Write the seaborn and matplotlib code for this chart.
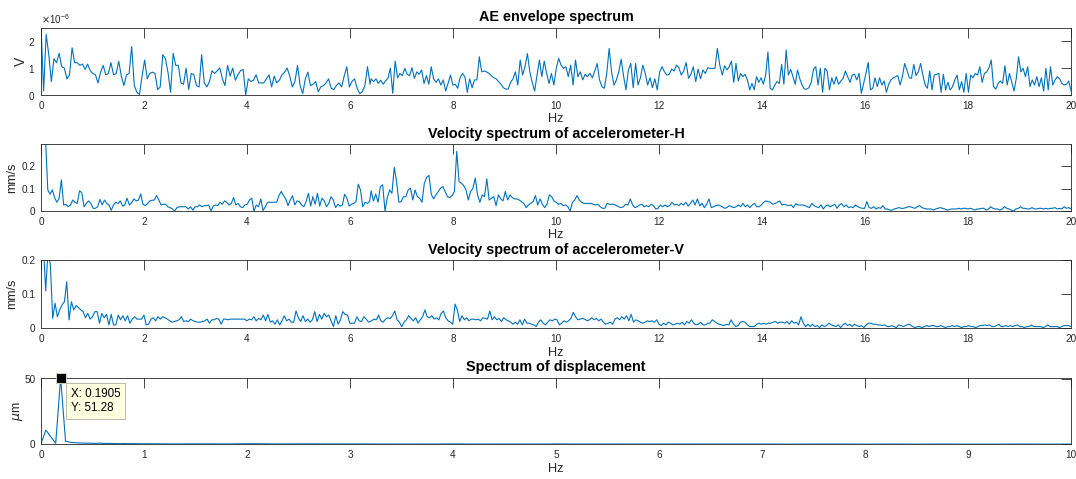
import numpy as np
import pandas as pd
import matplotlib
matplotlib.use("Agg")
import matplotlib.pyplot as plt
from matplotlib.ticker import ScalarFormatter, FuncFormatter
import seaborn as sns

# ---------------- data ----------------
# Each series is given in segments: (start Hz, end Hz, values)
AE_SCALE = 1e-6  # values below are in units of 1e-6 V
ae_seg1 = [2.6, 0.15, 2.25, 1.5, 0.5, 1.35, 1.2, 1.55, 1.05, 1.0, 0.6, 0.75, 1.75, 1.2, 1.2, 1.1, 1.15, 0.95,
           1.15, 0.9, 0.8, 0.75, 0.45, 0.85, 1.1, 0.75, 0.8, 1.2, 0.75, 0.8, 1.25, 0.7, 0.35, 0.75, 0.8, 1.8,
           0.35, 0.1, 0.02, 0.7, 1.3, 0.6, 0.8, 0.85, 0.8, 0.2, 0.3, 1.5, 1.35, 0.85, 0.1, 1.55, 1.1, 1.1, 0.45,
           0.4, 1.0, 0.2, 0.8, 0.75, 0.35, 0.3, 1.5, 0.45, 0.3, 0.5, 0.9, 0.8, 0.9, 1.0, 0.6, 0.35, 1.1, 0.7,
           1.0, 0.55, 0.75, 0.9, 0.95, 0.0, 0.6, 0.5, 0.55, 0.75, 0.45, 0.45, 0.45, 0.6, 0.75, 0.3, 0.7, 0.45,
           0.55, 0.75, 0.85, 1.0, 0.7, 0.3, 0.5, 1.1, 0.35, 0.05, 0.6, 0.85, 0.35, 0.4, 0.5, 0.12, 0.3, 0.35,
           0.45, 0.6, 0.25, 0.2, 0.35, 0.45, 0.3, 0.7, 1.05, 0.3, 0.5, 0.6, 0.25, 0.05, 0.12, 0.35, 1.05, 0.4]
ae_seg2 = [0.6, 0.5, 0.6, 0.43, 0.55, 0.4, 0.52, 0.62, 1.0, 0.06, 1.26, 0.64, 0.8, 0.72, 0.99, 0.77, 0.72,
           1.01, 0.62, 0.86, 0.77, 0.93, 0.43, 0.72, 0.4, 1.05, 0.6, 0.47, 0.6, 0.37, 0.56, 0.15, 0.43, 0.74,
           0.37, 0.4, 0.25, 0.64, 0.8, 0.68, 0.1, 0.6, 0.27, 0.56, 0.56, 1.42, 0.86, 0.89, 0.86, 0.8, 0.72, 0.64,
           0.6, 0.5, 0.4, 0.27, 0.22, 0.22, 0.47, 0.6, 0.86, 0.37, 1.3, 0.74, 1.05, 1.54, 0.86, 0.47, 0.15, 0.74,
           1.3, 0.68, 1.26, 0.8, 0.43, 0.8, 0.37, 0.99, 1.36, 1.11, 0.99, 1.05, 0.68, 1.11, 0.37, 1.3, 0.68,
           0.86, 0.56, 0.77, 0.68, 0.8, 0.64, 0.89, 1.17, 0.56, 0.31, 0.25, 0.8, 1.73, 0.86, 0.37, 0.56, 0.86,
           1.33, 0.7, 0.19, 0.93, 1.17, 0.27, 1.17, 0.37, 0.64, 1.11, 0.8, 0.37, 0.64, 0.27, 0.6, 0.19, 0.86,
           1.05, 0.86, 0.74, 0.77, 0.96, 0.89, 1.11, 1.01, 0.74, 0.89, 1.21, 0.62, 0.77, 1.05, 0.5, 0.96, 0.6,
           0.93, 0.8, 1.01, 0.99, 0.99, 0.99, 1.73, 1.11]
ae_seg3 = [0.74, 1.09, 0.93, 1.05, 1.26, 0.47, 1.17, 0.52, 0.8, 0.68, 0.77, 0.56, 0.19, 0.43, 0.19, 0.68,
           0.47, 0.64, 0.4, 0.74, 1.6, 0.25, 0.19, 0.37, 0.5, 0.43, 1.14, 0.4, 1.67, 0.74, 0.95, 0.68, 0.4,
           0.93, 0.6, 0.37, 0.22, 0.22, 0.27, 0.47, 0.96, 1.05, 0.37, 0.99, 0.1, 0.99, 0.89, 0.19, 0.64, 0.4,
           0.68, 0.4, 0.52, 0.62, 0.89, 0.68, 0.47, 0.74, 0.77, 0.56, 0.8, 0.06, 0.43, 0.8, 1.21, 0.19, 0.25,
           0.64, 0.31, 0.64, 0.37, 0.52, 0.1, 0.4, 0.56, 0.64, 0.68, 0.72, 0.37, 0.68, 1.17, 0.93, 0.64, 0.62,
           1.14, 0.72, 0.86, 1.17, 0.74, 0.37, 0.25, 0.89, 0.19, 0.74, 0.77, 0.8, 0.1, 0.77, 0.19, 0.47, 0.19,
           0.31, 0.56, 0.74, 0.19, 0.5, 0.1, 0.8, 0.1, 0.74, 0.64, 0.8, 0.74, 1.05, 0.47, 0.8, 0.86, 1.01, 1.3,
           0.31, 0.22, 0.43, 0.52, 0.43, 1.09, 0.37, 0.8, 0.47, 0.15, 0.62, 1.42, 0.86, 0.99, 0.68, 1.05, 0.31,
           0.56, 0.37, 0.68, 0.31, 0.64, 0.15, 0.99, 0.19, 1.05, 0.37, 0.56, 0.68, 0.6, 0.43, 0.37, 0.4, 0.52,
           0.15]
ae_segments = [(0.0, 6.39, ae_seg1), (6.41, 13.18, ae_seg2), (13.23, 20.0, ae_seg3)]

velh_seg1 = [0.9, 0.6, 0.32, 0.094, 0.075, 0.094, 0.06, 0.039, 0.057, 0.139, 0.027, 0.03, 0.019, 0.027, 0.049,
             0.039, 0.034, 0.09, 0.082, 0.019, 0.034, 0.045, 0.034, 0.012, 0.012, 0.019, 0.052, 0.027, 0.049,
             0.034, 0.027, 0.003, 0.027, 0.039, 0.034, 0.045, 0.022, 0.027, 0.057, 0.027, 0.037, 0.054, 0.045,
             0.049, 0.076, 0.03, 0.024, 0.033, 0.045, 0.048, 0.049, 0.069, 0.049, 0.027, 0.03, 0.03, 0.019,
             0.015, 0.009, 0.0, 0.015, 0.019, 0.019, 0.019, 0.019, 0.009, 0.019, 0.004, 0.019, 0.019, 0.027,
             0.019, 0.024, 0.024, 0.027, 0.0, 0.022, 0.027, 0.024, 0.039, 0.03, 0.045, 0.039, 0.027, 0.034,
             0.06, 0.027, 0.034, 0.019, 0.015, 0.027, 0.03, 0.049, 0.057, 0.0, 0.027, 0.019, 0.054, 0.002,
             0.019, 0.039, 0.039, 0.039, 0.039, 0.039, 0.069, 0.087, 0.069, 0.054, 0.024, 0.049, 0.069, 0.027,
             0.045, 0.042, 0.027, 0.019, 0.042, 0.079, 0.022, 0.064, 0.03, 0.079, 0.022, 0.057, 0.045, 0.019,
             0.034, 0.064, 0.049, 0.015, 0.03, 0.022, 0.027, 0.075, 0.057, 0.022, 0.03, 0.034, 0.042, 0.12,
             0.094, 0.019, 0.039, 0.034, 0.042]
velh_seg2 = [0.09, 0.045, 0.075, 0.039, 0.109, 0.117, 0.0, 0.06, 0.094, 0.079, 0.195, 0.132, 0.039, 0.042,
             0.064, 0.064, 0.094, 0.102, 0.049, 0.094, 0.064, 0.057, 0.039, 0.124, 0.15, 0.159, 0.075, 0.054,
             0.072, 0.087, 0.102, 0.109, 0.087, 0.064, 0.06, 0.069, 0.087, 0.267, 0.132, 0.124, 0.114, 0.094,
             0.049, 0.087, 0.102, 0.147, 0.072, 0.039, 0.072, 0.064, 0.144, 0.049, 0.057, 0.064, 0.024, 0.072,
             0.054, 0.045, 0.087, 0.049, 0.072, 0.06, 0.054, 0.054, 0.049, 0.042, 0.034, 0.015, 0.027, 0.034,
             0.042, 0.069, 0.027, 0.054, 0.03, 0.015, 0.03, 0.072, 0.064, 0.045, 0.039, 0.03, 0.034, 0.024,
             0.027, 0.019, 0.0, 0.039, 0.049, 0.069, 0.049, 0.039, 0.034, 0.034, 0.034, 0.034, 0.03, 0.027,
             0.03, 0.019, 0.012, 0.012, 0.034, 0.03, 0.03, 0.03, 0.024, 0.019, 0.015, 0.019, 0.03, 0.027,
             0.054, 0.027, 0.015, 0.019, 0.027, 0.03, 0.019, 0.024, 0.019, 0.03, 0.024, 0.009, 0.012, 0.027,
             0.019, 0.027, 0.019, 0.024, 0.039, 0.027, 0.03, 0.024, 0.034, 0.027, 0.039, 0.022, 0.034, 0.049,
             0.027, 0.054, 0.024, 0.034, 0.015, 0.03, 0.054, 0.015, 0.019, 0.024, 0.027]
velh_seg3 = [0.019, 0.012, 0.015, 0.024, 0.019, 0.015, 0.019, 0.027, 0.019, 0.034, 0.019, 0.027, 0.015, 0.027,
             0.034, 0.019, 0.019, 0.027, 0.039, 0.045, 0.042, 0.039, 0.03, 0.034, 0.039, 0.045, 0.027, 0.03,
             0.027, 0.024, 0.027, 0.015, 0.033, 0.027, 0.027, 0.027, 0.024, 0.019, 0.015, 0.034, 0.024, 0.019,
             0.015, 0.027, 0.009, 0.022, 0.027, 0.019, 0.024, 0.03, 0.012, 0.027, 0.033, 0.019, 0.027, 0.015,
             0.019, 0.015, 0.027, 0.019, 0.015, 0.012, 0.012, 0.042, 0.015, 0.012, 0.019, 0.009, 0.015, 0.012,
             0.024, 0.009, 0.009, 0.004, 0.004, 0.009, 0.012, 0.015, 0.012, 0.012, 0.015, 0.019, 0.019, 0.015,
             0.012, 0.019, 0.024, 0.015, 0.012, 0.009, 0.009, 0.009, 0.004, 0.009, 0.012, 0.015, 0.012, 0.009,
             0.004, 0.007, 0.009, 0.009, 0.009, 0.012, 0.009, 0.012, 0.012, 0.009, 0.012, 0.009, 0.004, 0.009,
             0.009, 0.012, 0.012, 0.004, 0.009, 0.019, 0.012, 0.009, 0.009, 0.004, 0.009, 0.019, 0.012, 0.009,
             0.004, 0.0, 0.009, 0.012, 0.019, 0.012, 0.012, 0.009, 0.009, 0.015, 0.009, 0.009, 0.012, 0.012,
             0.009, 0.012, 0.009, 0.012, 0.012, 0.015, 0.009, 0.012, 0.009, 0.019, 0.012, 0.015, 0.009]
velh_segments = [(0.0, 6.38, velh_seg1), (6.41, 13.15, velh_seg2), (13.23, 20.0, velh_seg3)]

velv_seg1 = [0.35, 0.25, 0.11, 0.23, 0.186, 0.029, 0.074, 0.034, 0.054, 0.069, 0.078, 0.137, 0.025, 0.078,
             0.054, 0.067, 0.061, 0.054, 0.049, 0.031, 0.044, 0.027, 0.034, 0.049, 0.049, 0.015, 0.044, 0.031,
             0.041, 0.01, 0.041, 0.01, 0.01, 0.039, 0.025, 0.037, 0.022, 0.037, 0.015, 0.027, 0.034, 0.027,
             0.027, 0.027, 0.039, 0.01, 0.012, 0.027, 0.031, 0.022, 0.034, 0.027, 0.034, 0.031, 0.027, 0.022,
             0.018, 0.02, 0.022, 0.025, 0.034, 0.02, 0.022, 0.02, 0.027, 0.022, 0.02, 0.018, 0.018, 0.02, 0.022,
             0.027, 0.015, 0.025, 0.025, 0.029, 0.027, 0.012, 0.027, 0.027, 0.025, 0.027, 0.027, 0.027, 0.027,
             0.027, 0.027, 0.027, 0.022, 0.027, 0.025, 0.034, 0.022, 0.029, 0.025, 0.039, 0.022, 0.041, 0.018,
             0.022, 0.012, 0.025, 0.01, 0.022, 0.037, 0.022, 0.027, 0.018, 0.018, 0.051, 0.031, 0.02, 0.037,
             0.02, 0.027, 0.018, 0.025, 0.049, 0.02, 0.041, 0.027, 0.044, 0.034, 0.039, 0.022, 0.005, 0.037,
             0.012, 0.025, 0.049, 0.041, 0.039, 0.015, 0.015, 0.015, 0.034, 0.022, 0.02, 0.034, 0.027, 0.018]
velv_seg2 = [0.022, 0.027, 0.025, 0.039, 0.022, 0.018, 0.027, 0.031, 0.029, 0.037, 0.051, 0.025, 0.018,
             0.005, 0.018, 0.025, 0.037, 0.029, 0.022, 0.031, 0.015, 0.025, 0.034, 0.054, 0.034, 0.031, 0.037,
             0.027, 0.031, 0.025, 0.044, 0.051, 0.031, 0.022, 0.018, 0.012, 0.071, 0.054, 0.02, 0.037, 0.025,
             0.031, 0.022, 0.027, 0.027, 0.025, 0.027, 0.022, 0.031, 0.029, 0.027, 0.051, 0.025, 0.034, 0.025,
             0.029, 0.02, 0.031, 0.025, 0.022, 0.018, 0.012, 0.018, 0.012, 0.025, 0.01, 0.027, 0.015, 0.015,
             0.012, 0.01, 0.005, 0.018, 0.025, 0.015, 0.01, 0.018, 0.025, 0.022, 0.027, 0.025, 0.01, 0.015,
             0.022, 0.018, 0.022, 0.029, 0.047, 0.034, 0.025, 0.027, 0.029, 0.027, 0.022, 0.025, 0.031, 0.025,
             0.029, 0.022, 0.027, 0.018, 0.012, 0.015, 0.018, 0.012, 0.027, 0.031, 0.025, 0.034, 0.027, 0.037,
             0.022, 0.041, 0.018, 0.025, 0.022, 0.018, 0.015, 0.018, 0.022, 0.02, 0.022, 0.018, 0.025, 0.012,
             0.008, 0.015, 0.01, 0.018, 0.015, 0.01, 0.012, 0.015, 0.012, 0.018, 0.01, 0.02, 0.015, 0.025, 0.015,
             0.01, 0.012, 0.018, 0.01, 0.01, 0.015, 0.015, 0.025, 0.02, 0.015, 0.012]
velv_seg3 = [0.01, 0.008, 0.012, 0.01, 0.025, 0.012, 0.005, 0.008, 0.018, 0.02, 0.018, 0.01, 0.005, 0.005,
             0.005, 0.012, 0.015, 0.012, 0.015, 0.012, 0.015, 0.015, 0.018, 0.02, 0.015, 0.018, 0.018, 0.015,
             0.02, 0.012, 0.022, 0.015, 0.018, 0.01, 0.034, 0.015, 0.005, 0.012, 0.005, 0.012, 0.005, 0.008,
             0.002, 0.01, 0.005, 0.008, 0.015, 0.01, 0.008, 0.005, 0.01, 0.002, 0.01, 0.015, 0.008, 0.012, 0.005,
             0.012, 0.008, 0.005, 0.008, 0.002, 0.01, 0.015, 0.015, 0.012, 0.012, 0.01, 0.01, 0.008, 0.01, 0.005,
             0.005, 0.008, 0.005, 0.002, 0.01, 0.008, 0.005, 0.008, 0.012, 0.01, 0.005, 0.002, 0.005, 0.005,
             0.002, 0.005, 0.008, 0.005, 0.008, 0.008, 0.005, 0.005, 0.008, 0.005, 0.002, 0.005, 0.005, 0.008,
             0.005, 0.008, 0.005, 0.002, 0.005, 0.005, 0.008, 0.005, 0.005, 0.002, 0.005, 0.008, 0.008, 0.01,
             0.008, 0.01, 0.005, 0.005, 0.008, 0.012, 0.005, 0.005, 0.008, 0.005, 0.008, 0.005, 0.008, 0.01,
             0.005, 0.005, 0.002, 0.005, 0.005, 0.01, 0.005, 0.005, 0.005, 0.005, 0.002, 0.005, 0.01, 0.005,
             0.005, 0.005, 0.005, 0.002, 0.005, 0.008, 0.008, 0.008, 0.005]
velv_segments = [(0.0, 6.36, velv_seg1), (6.42, 13.17, velv_seg2), (13.22, 20.0, velv_seg3)]

disp_seg1 = [0.5, 10.9, 5.8, 0.8, 51.28, 2.5, 1.5, 1.2, 1.0, 0.9, 0.8, 0.7, 0.9, 0.6, 0.7, 0.6, 0.5, 0.6,
             0.5, 0.5, 0.4, 0.4]
disp_seg2 = [0.4, 0.3, 0.35, 0.3, 0.45, 0.3, 0.35, 0.3, 0.3, 0.25, 0.2, 0.25, 0.3, 0.2, 0.25, 0.2, 0.3, 0.2,
             0.25, 0.2, 0.2, 0.25, 0.2, 0.2, 0.2, 0.15, 0.2, 0.2, 0.15, 0.2, 0.15, 0.2, 0.15, 0.15, 0.2, 0.15,
             0.15]
disp_segments = [(0.0, 1.0, disp_seg1), (1.05, 10.0, disp_seg2)]

titles = ["AE envelope spectrum", "Velocity spectrum of accelerometer-H",
          "Velocity spectrum of accelerometer-V", "Spectrum of displacement"]
ylabels = ["V", "mm/s", "mm/s", r"$\mu$m"]


def build(segments, scale=1.0):
    f = np.concatenate([np.linspace(a, b, len(v)) for a, b, v in segments])
    y = np.concatenate([np.asarray(v, float) for _, _, v in segments]) * scale
    return pd.DataFrame({"Hz": f, "amp": y})


frames = [build(ae_segments, AE_SCALE), build(velh_segments), build(velv_segments), build(disp_segments)]

# ---------------- style ----------------
sns.set_style("white")
plt.rcParams["font.family"] = ["Liberation Sans", "DejaVu Sans"]
plt.rcParams["mathtext.fontset"] = "dejavusans"
AX_COL = "#262626"
LINE_COL = "#0072BD"

fig = plt.figure(figsize=(10.76, 4.79), dpi=100)
W = 1076.0
H = 479.0
boxes = [(27.7, 95.0), (144.3, 211.0), (260.3, 328.3), (377.7, 444.3)]
left, right = 41.0, 1071.0

xlims = [(0, 20), (0, 20), (0, 20), (0, 10)]
ylims = [(0, 2.5e-6), (0, 0.298), (0, 0.2), (0, 51.28)]
yticks = [[0, 1e-6, 2e-6], [0, 0.1, 0.2], [0, 0.1, 0.2], [0, 50]]
xticks = [np.arange(0, 21, 2), np.arange(0, 21, 2), np.arange(0, 21, 2), np.arange(0, 11, 1)]
ylabel_sizes = [10, 9, 9, 9]
ylabel_x = [-0.0126, -0.022, -0.022, -0.0155]

plain = FuncFormatter(lambda v, p: f"{v:g}")

axes = []
for i, (top, bot) in enumerate(boxes):
    ax = fig.add_axes([left / W, 1 - bot / H, (right - left) / W, (bot - top) / H])
    df = frames[i]
    sns.lineplot(data=df, x="Hz", y="amp", ax=ax, color=LINE_COL, linewidth=0.8,
                 estimator=None, sort=False, legend=False)
    ax.set_xlim(*xlims[i])
    ax.set_ylim(*ylims[i])
    ax.set_xticks(xticks[i])
    ax.set_yticks(yticks[i])
    ax.xaxis.set_major_formatter(plain)
    if i > 0:
        ax.yaxis.set_major_formatter(plain)
    ax.tick_params(direction="in", length=7.3, width=0.6, top=True, right=True,
                   labelsize=7.2, colors=AX_COL, pad=4)
    for s in ax.spines.values():
        s.set_color(AX_COL)
        s.set_linewidth(0.6)
    ax.set_title(titles[i], fontsize=10.4, fontweight="bold", color="black", pad=4.5)
    ax.set_xlabel("Hz", fontsize=9.2, color=AX_COL, labelpad=2)
    ax.set_ylabel(ylabels[i], fontsize=ylabel_sizes[i], color=AX_COL)
    ax.yaxis.set_label_coords(ylabel_x[i], 0.5)
    axes.append(ax)

# scientific offset for the AE panel
fmt = ScalarFormatter(useMathText=True)
fmt.set_powerlimits((0, 0))
axes[0].yaxis.set_major_formatter(fmt)
axes[0].yaxis.get_offset_text().set_fontsize(7)
axes[0].yaxis.get_offset_text().set_color(AX_COL)
axes[0].set_yticks(yticks[0])

# data tip on the displacement peak
dfd = frames[3]
k = int(dfd["amp"].idxmax())
px, py = dfd.loc[k, "Hz"], dfd.loc[k, "amp"]
px = round(px * 21) / 21  # frequency bin of the peak
axes[3].plot([px], [py], marker="s", ms=6.5, mfc="black", mec="#E0E0C0", mew=0.6,
             clip_on=False, zorder=5)
axes[3].annotate(f"X: {px:.4f}\nY: {py:.2f}", xy=(px, py), xytext=(10, -10),
                 textcoords="offset pixels", ha="left", va="top", fontsize=8.4,
                 color="black", linespacing=1.3, zorder=6,
                 bbox=dict(boxstyle="square,pad=0.4", fc="#FFFFE1", ec="#B0B0A0", lw=0.6))

fig.savefig("out.png", dpi=100)
